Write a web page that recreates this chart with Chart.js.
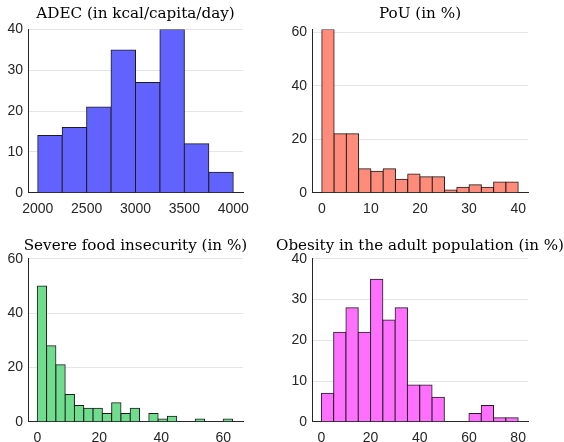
<!DOCTYPE html>
<html>
<head>
<meta charset="utf-8">
<script src="https://cdn.jsdelivr.net/npm/chart.js@4/dist/chart.umd.min.js"></script>
<style>
  html, body { margin: 0; padding: 0; background: #fff; }
  #wrap { position: relative; width: 564px; height: 442px; overflow: hidden; }
  canvas { position: absolute; }
</style>
</head>
<body>
<div id="wrap">
  <canvas id="adec" width="271" height="221" style="left:0;top:0"></canvas>
  <canvas id="pou" width="288" height="221" style="left:276px;top:0"></canvas>
  <canvas id="sfi" width="271" height="221" style="left:0;top:221px"></canvas>
  <canvas id="obe" width="288" height="221" style="left:276px;top:221px"></canvas>
</div>
<script>
// Histogram bins (edges) and counts per indicator
const adecEdges = [2000, 2250, 2500, 2750, 3000, 3250, 3500, 3750, 4000];
const adecCounts = [14, 16, 21, 35, 27, 40, 12, 5];
const adecTicksX = [2000, 2500, 3000, 3500, 4000];
const adecTicksY = [0, 10, 20, 30, 40];

const pouEdges = [0, 2.5, 5, 7.5, 10, 12.5, 15, 17.5, 20, 22.5, 25, 27.5, 30, 32.5, 35, 37.5, 40];
const pouCounts = [61, 22, 22, 9, 8, 9, 5, 7, 6, 6, 1, 2, 3, 2, 4, 4];
const pouTicksX = [0, 10, 20, 30, 40];
const pouTicksY = [0, 20, 40, 60];

const sfiEdges = [0, 3, 6, 9, 12, 15, 18, 21, 24, 27, 30, 33, 36, 39, 42, 45, 48, 51, 54, 57, 60, 63];
const sfiCounts = [50, 28, 21, 10, 6, 5, 5, 3, 7, 3, 5, 0, 3, 1, 2, 0, 0, 1, 0, 0, 1];
const sfiTicksX = [0, 20, 40, 60];
const sfiTicksY = [0, 20, 40, 60];

const obeEdges = [0, 5, 10, 15, 20, 25, 30, 35, 40, 45, 50, 55, 60, 65, 70, 75, 80];
const obeCounts = [7, 22, 28, 22, 35, 25, 28, 9, 9, 6, 0, 0, 2, 4, 1, 1];
const obeTicksX = [0, 20, 40, 60, 80];
const obeTicksY = [0, 10, 20, 30, 40];

const axisColor = '#262626';
const gridColor = 'rgba(0,0,0,0.1)';
const tickFont = { family: 'Liberation Sans, Arial, sans-serif', size: 14 };
const titleFont = { family: 'DejaVu Serif, serif', size: 15.2, weight: 'normal' };

function makeHistogram(id, title, edges, counts, ticksX, ticksY, opts) {
    const points = counts.map((c, i) => ({ x: (edges[i] + edges[i + 1]) / 2, y: c }));
    return new Chart(document.getElementById(id), {
        type: 'bar',
        data: {
            datasets: [{
                data: points,
                backgroundColor: opts.color,
                borderColor: '#1c1c1c',
                borderWidth: 1,
                inflateAmount: 0.5,
                barPercentage: 1,
                categoryPercentage: 1
            }]
        },
        options: {
            responsive: false,
            animation: false,
            layout: { padding: { top: opts.padTop, right: 0, left: 0, bottom: 0 } },
            plugins: {
                legend: { display: false },
                tooltip: { enabled: false },
                title: {
                    display: true,
                    text: title,
                    color: '#000',
                    font: titleFont,
                    padding: { top: opts.titleTop, bottom: 11 - opts.titleTop }
                }
            },
            scales: {
                x: {
                    type: 'linear',
                    offset: false,
                    min: opts.xMin,
                    max: opts.xMax,
                    grid: { display: false, drawTicks: false },
                    border: { display: true, color: axisColor, width: 1 },
                    ticks: { color: axisColor, font: tickFont, padding: 8, maxRotation: 0, callback: v => String(v) },
                    afterBuildTicks: s => { s.ticks = ticksX.map(v => ({ value: v })); },
                    afterFit: s => { s.height = opts.xAxisHeight; }
                },
                y: {
                    min: 0,
                    max: opts.yMax,
                    grid: { color: gridColor, drawTicks: false },
                    border: { display: true, color: axisColor, width: 1 },
                    ticks: { color: axisColor, font: tickFont, padding: 5, callback: v => String(v) },
                    afterBuildTicks: s => { s.ticks = ticksY.map(v => ({ value: v })); },
                    afterFit: s => { s.width = opts.yAxisWidth; }
                },
                // empty right-hand box so the title stays centred over the axes
                spacer: {
                    axis: 'y',
                    position: 'right',
                    grid: { display: false, drawTicks: false },
                    border: { display: false },
                    ticks: { display: false },
                    afterFit: s => { s.width = opts.yAxisWidth; }
                }
            }
        }
    });
}

makeHistogram('adec', 'ADEC (in kcal/capita/day)', adecEdges, adecCounts, adecTicksX, adecTicksY, {
    color: '#6262ff', xMin: 1900, xMax: 4100, yMax: 40,
    padTop: 0.3, titleTop: 5, yAxisWidth: 28, xAxisHeight: 28.3
});
makeHistogram('pou', 'PoU (in %)', pouEdges, pouCounts, pouTicksX, pouTicksY, {
    color: '#ff8c7a', xMin: -2, xMax: 42, yMax: 61,
    padTop: 0.3, titleTop: 5, yAxisWidth: 36, xAxisHeight: 28.3
});
makeHistogram('sfi', 'Severe food insecurity (in %)', sfiEdges, sfiCounts, sfiTicksX, sfiTicksY, {
    color: '#6fdc8e', xMin: -3, xMax: 66.4, yMax: 60,
    padTop: 8.7, titleTop: 7, yAxisWidth: 28, xAxisHeight: 20.3
});
makeHistogram('obe', 'Obesity in the adult population (in %)', obeEdges, obeCounts, obeTicksX, obeTicksY, {
    color: '#ff70ff', xMin: -3.8, xMax: 84, yMax: 40,
    padTop: 8.7, titleTop: 7, yAxisWidth: 36, xAxisHeight: 20.3
});
</script>
</body>
</html>
